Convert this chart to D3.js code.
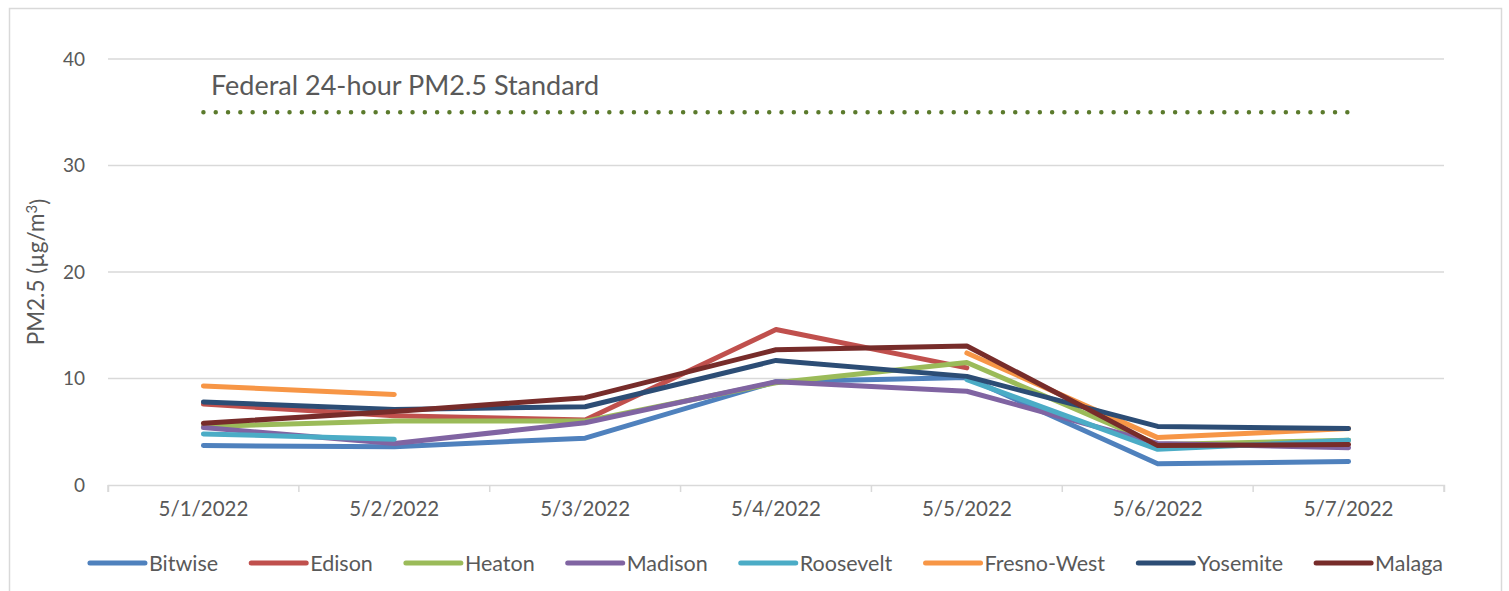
<!DOCTYPE html>
<html>
<head>
<meta charset="utf-8">
<script src="https://cdn.jsdelivr.net/npm/d3@7"></script>
<style>
  html, body { margin: 0; padding: 0; background: #fff; }
  svg { display: block; }
  text { font-family: Lato, "Open Sans", sans-serif; fill: #595959; }
</style>
</head>
<body>
<svg id="chart" width="1509" height="591"></svg>
<script>
const categories = ["5/1/2022", "5/2/2022", "5/3/2022", "5/4/2022", "5/5/2022", "5/6/2022", "5/7/2022"];
const seriesNames = ["Bitwise", "Edison", "Heaton", "Madison", "Roosevelt", "Fresno-West", "Yosemite", "Malaga"];
const seriesColors = ["#4F81BD", "#C0504D", "#9BBB59", "#8064A2", "#4BACC6", "#F79646", "#2C4D75", "#772C2A"];
const bitwise    = [3.7, 3.6, 4.4, 9.7, 10.1, 2.0, 2.2];
const edison     = [7.6, 6.5, 6.1, 14.6, 11.0, null, null];
const heaton     = [5.5, 6.0, 6.0, 9.6, 11.5, 3.8, 4.2];
const madison    = [5.4, 3.9, 5.85, 9.7, 8.8, 3.9, 3.5];
const roosevelt  = [4.8, 4.3, null, null, 9.9, 3.35, 4.2];
const fresnoWest = [9.3, 8.5, null, null, 12.4, 4.45, 5.3];
const yosemite   = [7.8, 7.1, 7.35, 11.7, 10.2, 5.5, 5.3];
const malaga     = [5.8, 6.9, 8.2, 12.7, 13.05, 3.7, 3.8];
const yTicks = [0, 10, 20, 30, 40];
const standardValue = 35;
const standardLabel = "Federal 24-hour PM2.5 Standard";
const yTitleMain = "PM2.5 (µg/m";
const yTitleSup = "3";
const yTitleEnd = ")";

const seriesValues = [bitwise, edison, heaton, madison, roosevelt, fresnoWest, yosemite, malaga];
const series = seriesNames.map((n, i) => ({ name: n, color: seriesColors[i], values: seriesValues[i] }));

const svg = d3.select("#chart");
const plot = { left: 108, right: 1444, top: 59, bottom: 485 };

// outer border
svg.append("rect").attr("x", 9.5).attr("y", 8.5).attr("width", 1492).attr("height", 620)
  .attr("fill", "none").attr("stroke", "#d9d9d9").attr("stroke-width", 1.5);

const x = d3.scaleBand().domain(categories).range([plot.left, plot.right]).padding(0);
const y = d3.scaleLinear().domain([0, 40]).range([plot.bottom, plot.top]);
const cx = c => x(c) + x.bandwidth() / 2;

// gridlines
svg.append("g").selectAll("line").data(yTicks.filter(t => t > 0)).join("line")
  .attr("x1", plot.left).attr("x2", plot.right)
  .attr("y1", d => y(d)).attr("y2", d => y(d))
  .attr("stroke", "#d9d9d9").attr("stroke-width", 1.5);

// y tick labels
svg.append("g").selectAll("text").data(yTicks).join("text")
  .attr("x", 85).attr("y", d => y(d)).attr("dy", "0.35em")
  .attr("text-anchor", "end").style("font-size", "19px").text(d => d);

// x axis
const xAxis = d3.axisBottom(x).tickSize(7).tickSizeOuter(7).tickFormat(d => d);
const gx = svg.append("g").attr("transform", `translate(0,${plot.bottom})`).call(xAxis);
gx.select(".domain").attr("stroke", "#d9d9d9").attr("stroke-width", 1.5);
gx.selectAll(".tick line").remove();
const bounds = categories.map(c => x(c)).concat([plot.right]);
gx.selectAll("line.bound").data(bounds).join("line").attr("class", "bound")
  .attr("x1", d => d).attr("x2", d => d).attr("y1", 0).attr("y2", 7)
  .attr("stroke", "#d9d9d9").attr("stroke-width", 1.5);
gx.selectAll(".tick text").attr("y", 0).attr("dy", "1.5em")
  .style("font-size", "20.5px").style("fill", "#595959")
  .style("font-family", "Lato, 'Open Sans', sans-serif");

// y title
const yt = svg.append("text").attr("transform", `translate(44,${(plot.top + plot.bottom) / 2}) rotate(-90)`)
  .attr("text-anchor", "middle").style("font-size", "22.5px");
yt.append("tspan").text(yTitleMain);
yt.append("tspan").attr("dy", "-0.45em").style("font-size", "15px").text(yTitleSup);
yt.append("tspan").attr("dy", "0.45em").text(yTitleEnd);

// standard line
svg.append("line")
  .attr("x1", cx(categories[0])).attr("x2", cx(categories[categories.length - 1]))
  .attr("y1", y(standardValue)).attr("y2", y(standardValue))
  .attr("stroke", "#5B7A2C").attr("stroke-width", 4.5)
  .attr("stroke-linecap", "round").attr("stroke-dasharray", "0 12.3");
svg.append("text").attr("x", 211).attr("y", y(standardValue) - 17)
  .style("font-size", "27px").text(standardLabel);

// series lines
const line = d3.line()
  .defined(d => d.v !== null)
  .x(d => cx(d.c)).y(d => y(d.v));
svg.append("g").selectAll("path").data(series).join("path")
  .attr("d", s => line(s.values.map((v, i) => ({ c: categories[i], v }))))
  .attr("fill", "none").attr("stroke", s => s.color).attr("stroke-width", 5)
  .attr("stroke-linecap", "round").attr("stroke-linejoin", "round");

// legend
const legendY = 563;
const lg = svg.append("g");
const items = lg.selectAll("g").data(series).join("g");
items.append("line").attr("x1", 0).attr("x2", 55).attr("y1", 0).attr("y2", 0)
  .attr("stroke", s => s.color).attr("stroke-width", 5).attr("stroke-linecap", "round");
items.append("text").attr("x", 59).attr("y", 0).attr("dy", "0.35em")
  .style("font-size", "21.5px").text(s => s.name);
let widths = [];
items.each(function () { widths.push(this.getBBox().width); });
const gap = 33;
const total = d3.sum(widths) + gap * (widths.length - 1);
let start = 764 - total / 2;
items.attr("transform", (d, i) => {
  const t = `translate(${start + 2.5},${legendY})`;
  start += widths[i] + gap;
  return t;
});
</script>
</body>
</html>
